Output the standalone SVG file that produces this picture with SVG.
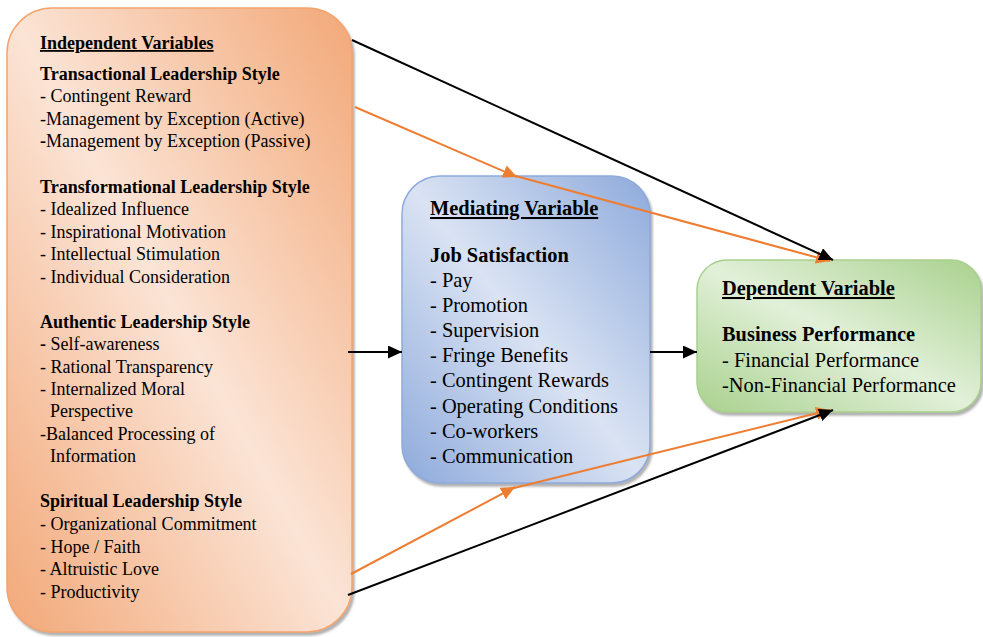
<svg xmlns="http://www.w3.org/2000/svg" width="983" height="637" viewBox="0 0 983 637">
<style>
text{font-family:"Liberation Serif","Times New Roman",serif;fill:#000}
.s{font-size:18px}
.m{font-size:20.4px}
.b{font-weight:bold}
.u{font-weight:bold;text-decoration:underline}
.line{fill:none;stroke-width:2}
.blk{stroke:#000}
.org{stroke:#ED7D31}
</style>
<defs>
<linearGradient id="gO" x1="1" y1="0" x2="0" y2="1">
<stop offset="0" stop-color="#F2A878"/>
<stop offset="0.5" stop-color="#FBE4D6"/>
<stop offset="1" stop-color="#F2A878"/>
</linearGradient>
<linearGradient id="gB" x1="1" y1="0" x2="0" y2="1">
<stop offset="0" stop-color="#8EAADB"/>
<stop offset="0.5" stop-color="#DAE3F3"/>
<stop offset="1" stop-color="#8EAADB"/>
</linearGradient>
<linearGradient id="gG" x1="1" y1="0" x2="0" y2="1">
<stop offset="0" stop-color="#A9D18E"/>
<stop offset="0.5" stop-color="#E2F0D9"/>
<stop offset="1" stop-color="#A9D18E"/>
</linearGradient>
<filter id="sh" x="-5%" y="-5%" width="110%" height="110%">
<feDropShadow dx="2" dy="3" stdDeviation="1" flood-color="#7F7F7F" flood-opacity="0.6"/>
</filter>
<marker id="aK" markerUnits="userSpaceOnUse" markerWidth="15" markerHeight="13" refX="14" refY="6.5" orient="auto">
<path d="M0,0 L14,6.5 L0,13 z" fill="#000"/>
</marker>
<marker id="aO" markerUnits="userSpaceOnUse" markerWidth="15" markerHeight="13" refX="14" refY="6.5" orient="auto">
<path d="M0,0 L14,6.5 L0,13 z" fill="#ED7D31"/>
</marker>
</defs>

<g id="independent">
<rect x="7" y="8" width="345" height="624" rx="45" ry="45" fill="url(#gO)" stroke="#F4A46E" stroke-width="1.5" filter="url(#sh)"/>
<text class="s u" x="40" y="49">Independent Variables</text>
<text class="s b" x="40" y="80">Transactional Leadership Style</text>
<text class="s" x="40" y="102">- Contingent Reward</text>
<text class="s" x="40" y="125">-Management by Exception (Active)</text>
<text class="s" x="40" y="147"><tspan class="b">-</tspan>Management by Exception (Passive)</text>
<text class="s b" x="40" y="193">Transformational Leadership Style</text>
<text class="s" x="40" y="215">- Idealized Influence</text>
<text class="s" x="40" y="238">- Inspirational Motivation</text>
<text class="s" x="40" y="260">- Intellectual Stimulation</text>
<text class="s" x="40" y="283">- Individual Consideration</text>
<text class="s b" x="40" y="328">Authentic Leadership Style</text>
<text class="s" x="40" y="350"><tspan class="b">-</tspan> Self-awareness</text>
<text class="s" x="40" y="373">- Rational Transparency</text>
<text class="s" x="40" y="395">- Internalized Moral</text>
<text class="s" x="50" y="417">Perspective</text>
<text class="s" x="40" y="440">-Balanced Processing of</text>
<text class="s" x="50" y="462">Information</text>
<text class="s b" x="40" y="507">Spiritual Leadership Style</text>
<text class="s" x="40" y="530">- Organizational Commitment</text>
<text class="s" x="40" y="553">- Hope / Faith</text>
<text class="s" x="40" y="575">- Altruistic Love</text>
<text class="s" x="40" y="598">- Productivity</text>
</g>

<g id="mediating">
<rect x="402" y="176" width="248" height="307" rx="38" ry="38" fill="url(#gB)" stroke="#8FAADC" stroke-width="1.5" filter="url(#sh)"/>
<text class="m u" x="430" y="215">Mediating Variable</text>
<text class="m b" x="430" y="262">Job Satisfaction</text>
<text class="m" x="430" y="287">- Pay</text>
<text class="m" x="430" y="312">- Promotion</text>
<text class="m" x="430" y="337">- Supervision</text>
<text class="m" x="430" y="362">- Fringe Benefits</text>
<text class="m" x="430" y="387">- Contingent Rewards</text>
<text class="m" x="430" y="413">- Operating Conditions</text>
<text class="m" x="430" y="438">- Co-workers</text>
<text class="m" x="430" y="463">- Communication</text>
</g>

<g id="dependent">
<rect x="697" y="260" width="284" height="152" rx="30" ry="30" fill="url(#gG)" stroke="#A9D08E" stroke-width="1.5" filter="url(#sh)"/>
<text class="m u" x="722" y="295">Dependent Variable</text>
<text class="m b" x="722" y="341">Business Performance</text>
<text class="m" x="722" y="367">- Financial Performance</text>
<text class="m" x="722" y="392">-Non-Financial Performance</text>
</g>

<g id="connectors">
<line class="line org" x1="355" y1="107" x2="517" y2="177" marker-end="url(#aO)"/>
<line class="line org" x1="512" y1="175" x2="830" y2="261" marker-end="url(#aO)"/>
<line class="line org" x1="351" y1="574" x2="515" y2="487" marker-end="url(#aO)"/>
<line class="line org" x1="510" y1="489" x2="830" y2="410" marker-end="url(#aO)"/>
<line class="line blk" x1="352" y1="40" x2="833" y2="260" marker-end="url(#aK)"/>
<line class="line blk" x1="348" y1="595" x2="833" y2="410" marker-end="url(#aK)"/>
<line class="line blk" x1="348" y1="352" x2="402" y2="352" marker-end="url(#aK)"/>
<line class="line blk" x1="650" y1="352" x2="697" y2="352" marker-end="url(#aK)"/>
</g>
</svg>
